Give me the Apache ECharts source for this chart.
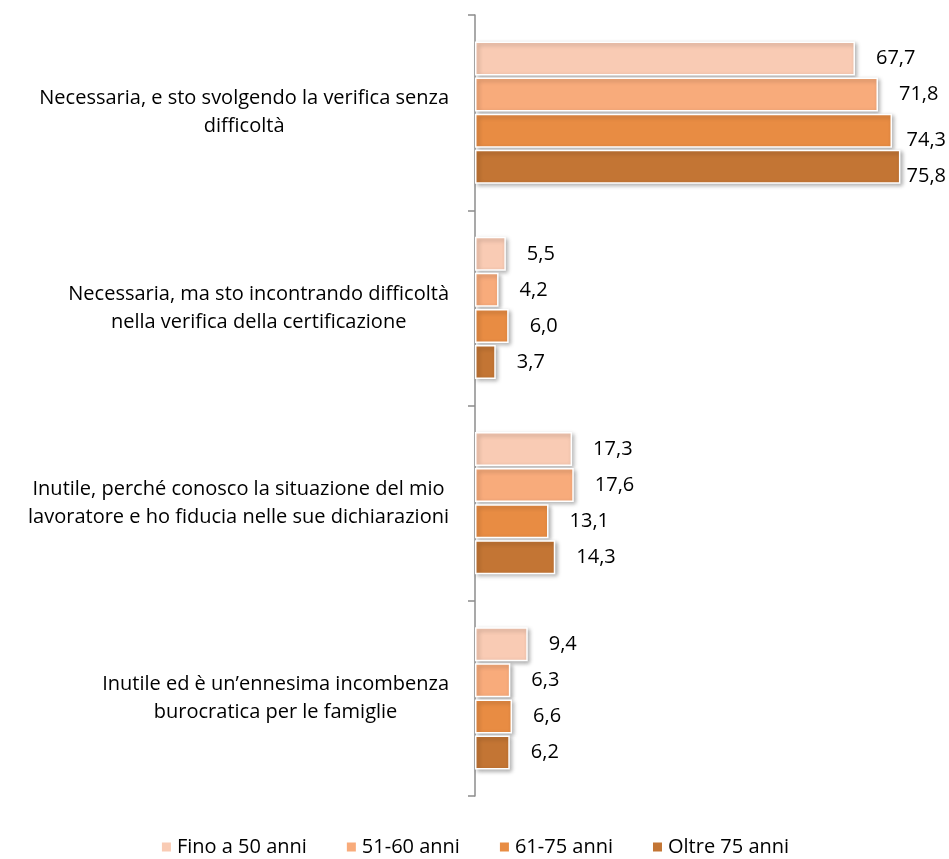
<!DOCTYPE html>
<html>
<head>
    <meta charset="utf-8"/>
    <style>
        html, body {
            height: 100%;
            margin: 0;
            padding: 0;
            background: #fff;
        }

        .container {
            width: 949px;
            height: 859px;
        }
    </style>
</head>
<body>
<div id="main" class="container"></div>
<script src="https://cdn.jsdelivr.net/npm/echarts@6/dist/echarts.min.js"></script>
<script type="text/javascript">
    // dati
    var categories = [
        'Necessaria, e sto svolgendo la verifica senza\ndifficoltà',
        'Necessaria, ma sto incontrando difficoltà\nnella verifica della certificazione',
        'Inutile, perché conosco la situazione del mio\nlavoratore e ho fiducia nelle sue dichiarazioni',
        'Inutile ed è un’ennesima incombenza\nburocratica per le famiglie'
    ];
    var seriesNames = ['Fino a 50 anni', '51-60 anni', '61-75 anni', 'Oltre 75 anni'];
    var fino50 = [67.7, 5.5, 17.3, 9.4];
    var da51a60 = [71.8, 4.2, 17.6, 6.3];
    var da61a75 = [74.3, 6.0, 13.1, 6.6];
    var oltre75 = [75.8, 3.7, 14.3, 6.2];
    var colors = ['#F9CBB4', '#F8AB7B', '#E88C43', '#C37534'];

    var fontFamily = '"Open Sans", "Liberation Sans", sans-serif';
    var myChart = echarts.init(document.getElementById('main'));
    var rightLimit = 946; // le etichette non escono dal grafico

    var values = [fino50, da51a60, da61a75, oltre75];
    var series = [];
    for (var i = 0; i < values.length; i++) {
        series.push({
            name: seriesNames[i],
            type: 'bar',
            data: values[i],
            barWidth: 34,
            barGap: '6%',
            itemStyle: {
                color: colors[i],
                borderColor: '#fff',
                borderWidth: 1.5,
                shadowColor: 'rgba(0,0,0,0.3)',
                shadowBlur: 4,
                shadowOffsetX: 2,
                shadowOffsetY: 2
            },
            label: {
                show: true,
                position: 'right',
                distance: 21,
                color: '#000',
                fontSize: 20,
                fontFamily: fontFamily,
                formatter: function (p) {
                    return p.value.toFixed(1).replace('.', ',');
                }
            },
            labelLayout: function (params) {
                var r = params.labelRect;
                if (r.x + r.width > rightLimit) {
                    return {x: rightLimit - r.width};
                }
                return {};
            }
        });
    }

    var option = {
        animation: false,
        color: colors,
        legend: {
            bottom: -3,
            left: 'center',
            icon: 'rect',
            itemWidth: 11,
            itemHeight: 11,
            itemGap: 38,
            selectedMode: false,
            textStyle: {
                color: '#000',
                fontSize: 20,
                fontFamily: fontFamily
            },
            data: seriesNames
        },
        grid: {
            left: 475,
            right: 25,
            top: 15,
            bottom: 63
        },
        xAxis: {
            type: 'value',
            min: 0,
            max: 80,
            show: false
        },
        yAxis: {
            type: 'category',
            inverse: true,
            data: categories,
            axisLine: {
                show: true,
                lineStyle: {color: '#8c8c8c', width: 1.5}
            },
            axisTick: {
                show: true,
                length: 7,
                lineStyle: {color: '#8c8c8c', width: 1.5}
            },
            axisLabel: {
                margin: 26,
                align: 'right',
                formatter: function (v) {
                    // righe centrate tra loro
                    return v.split('\n').map(function (r) {
                        return '{c|' + r + '}';
                    }).join('\n');
                },
                rich: {
                    c: {
                        align: 'center',
                        color: '#000',
                        fontSize: 20,
                        lineHeight: 28,
                        fontFamily: fontFamily
                    }
                }
            }
        },
        series: series
    };

    myChart.setOption(option);
</script>
</body>
</html>
